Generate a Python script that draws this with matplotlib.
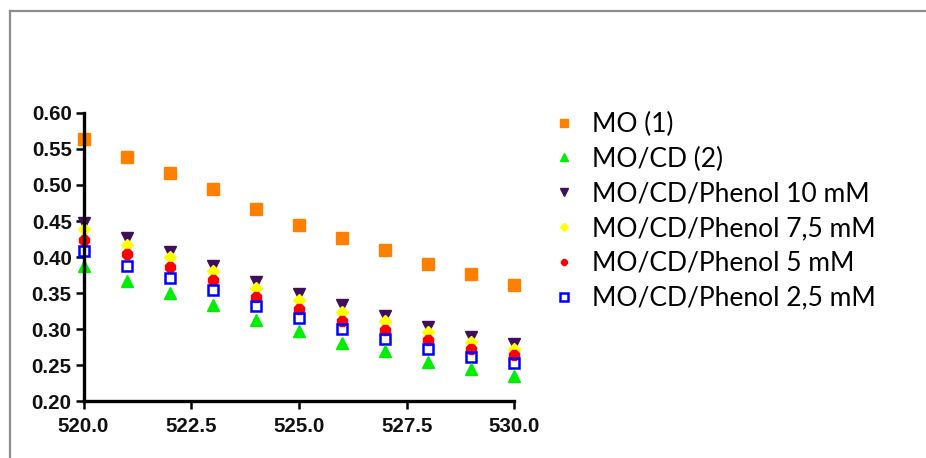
import matplotlib
matplotlib.use("Agg")
import matplotlib.pyplot as plt
from matplotlib.lines import Line2D

wavelength = [520, 521, 522, 523, 524, 525, 526, 527, 528, 529, 530]
mo = [0.563, 0.538, 0.517, 0.494, 0.466, 0.445, 0.426, 0.410, 0.391, 0.376, 0.362]
mo_cd = [0.387, 0.367, 0.350, 0.333, 0.313, 0.297, 0.281, 0.270, 0.255, 0.245, 0.235]
phenol_10 = [0.447, 0.426, 0.407, 0.388, 0.365, 0.349, 0.333, 0.318, 0.303, 0.290, 0.280]
phenol_75 = [0.439, 0.417, 0.400, 0.381, 0.357, 0.340, 0.324, 0.311, 0.296, 0.283, 0.273]
phenol_5 = [0.423, 0.404, 0.386, 0.368, 0.345, 0.328, 0.312, 0.299, 0.285, 0.273, 0.265]
phenol_25 = [0.409, 0.388, 0.371, 0.354, 0.332, 0.315, 0.300, 0.287, 0.273, 0.262, 0.253]

labels = ["MO (1)", "MO/CD (2)", "MO/CD/Phenol 10 mM", "MO/CD/Phenol 7,5 mM",
          "MO/CD/Phenol 5 mM", "MO/CD/Phenol 2,5 mM"]
xticks = [520.0, 522.5, 525.0, 527.5, 530.0]
yticks = [0.20, 0.25, 0.30, 0.35, 0.40, 0.45, 0.50, 0.55, 0.60]

fig = plt.figure(figsize=(9.26, 4.58), dpi=100)
ax = fig.add_axes([0.0902, 0.1234, 0.4652, 0.6305])

common = dict(linestyle="none", clip_on=False)
h_mo, = ax.plot(wavelength, mo, marker="s", ms=8.5, color="#ff8000", mec="#ff8000", zorder=3, **common)
h_cd, = ax.plot(wavelength, mo_cd, marker="^", ms=8.5, color="#00ee00", mec="#00ee00", zorder=3, **common)
h_10, = ax.plot(wavelength, phenol_10, marker="v", ms=8.5, color="#3f0f5c", mec="#3f0f5c", zorder=2.1, **common)
h_75, = ax.plot(wavelength, phenol_75, marker="D", ms=6.5, color="#ffff00", mec="#ffff00", zorder=2.2, **common)
h_5, = ax.plot(wavelength, phenol_5, marker="8", ms=7.5, color="#ff0000", mec="#ff0000", zorder=2.3, **common)
h_25, = ax.plot(wavelength, phenol_25, marker="s", ms=7.5, mfc="none", mec="#0000ff", mew=1.8, zorder=2.4, **common)

ax.set_xlim(520, 530)
ax.set_ylim(0.20, 0.60)
ax.set_xticks(xticks)
ax.set_xticklabels([f"{v:.1f}" for v in xticks])
ax.set_yticks(yticks)
ax.set_yticklabels([f"{v:.2f}" for v in yticks])
for s in ["top", "right"]:
    ax.spines[s].set_visible(False)
for s in ["left", "bottom"]:
    ax.spines[s].set_linewidth(2.4)
    ax.spines[s].set_zorder(5)
    ax.spines[s].set_capstyle("projecting")
ax.tick_params(axis="both", direction="out", length=6, width=1.8, color="black")
ax.tick_params(axis="y", pad=2.5)
ax.tick_params(axis="x", pad=5)
for lab in ax.get_xticklabels() + ax.get_yticklabels():
    lab.set_fontfamily("Liberation Sans")
    lab.set_fontweight("bold")
    lab.set_fontsize(14.8)
    lab.set_color("#111111")

leg = fig.legend([h_mo, h_cd, h_10, h_75, h_5, h_25], labels,
                 loc="upper left", bbox_to_anchor=(0.595, 0.756), frameon=False,
                 borderaxespad=0, borderpad=0,
                 markerscale=0.7, handlelength=1.0, handletextpad=0.56,
                 labelspacing=0.37, prop={"family": "Lato", "size": 19})

# outer frame
fig.add_artist(Line2D([0.0103, 1.0], [0.975, 0.975], color="#8c8c8c", lw=1.6, transform=fig.transFigure))
fig.add_artist(Line2D([0.0103, 0.0103], [0.0, 0.975], color="#8c8c8c", lw=1.6, transform=fig.transFigure))

fig.savefig("out.png", dpi=100)
